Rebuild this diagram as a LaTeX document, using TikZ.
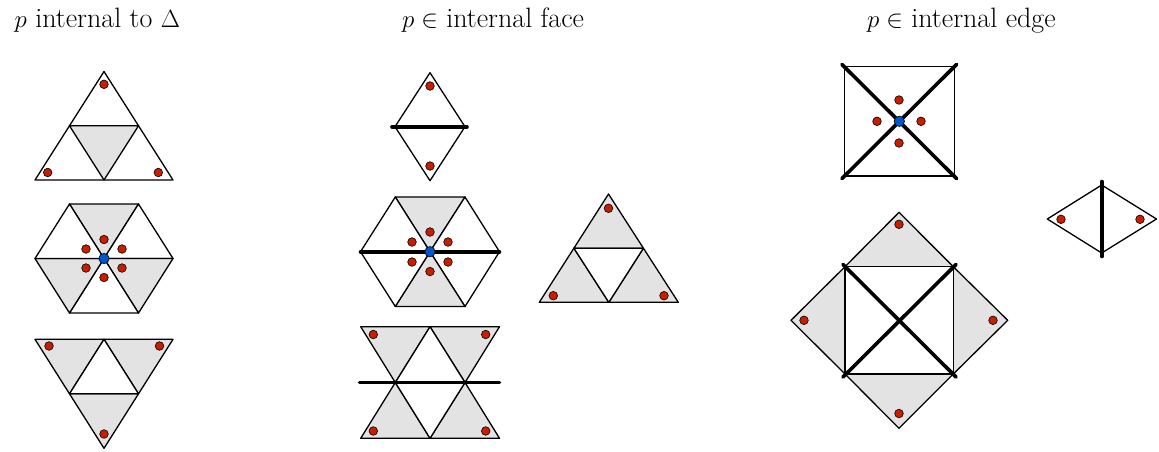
\documentclass[tikz,border=0pt]{standalone}
\usepackage{amssymb}
\definecolor{shade}{RGB}{227,227,227}
\definecolor{dotred}{RGB}{200,30,0}
\definecolor{dotblue}{RGB}{0,85,200}
\tikzset{
  face/.style={draw=black,line width=1.3pt,line join=round,fill=shade},
  wface/.style={draw=black,line width=1.3pt,line join=round,fill=white},
  heavy/.style={draw=black,line width=3.6pt,line cap=round},
  rdot/.style={fill=dotred,draw=black,line width=0.6pt},
  bdot/.style={fill=dotblue,draw=black,line width=0.6pt},
  title/.style={anchor=base west,inner sep=0pt,font=\fontsize{28}{33}\selectfont}
}
\begin{document}
\begin{tikzpicture}[x=1pt,y=-1pt]
\useasboundingbox (0,0) rectangle (1159,451);
% titles
\node[title] (t1) at (14.5,27) {$p$ internal to $\Delta$};
\node[title] (t2) at (402,27) {$p\in$ internal face};
\node[title] (t3) at (867,27) {$p\in$ internal edge};

% ---------- column 1 ----------
% top triangle
\draw[wface] (35,180)--(104,71.5)--(173,180)--cycle;
\draw[face] (69.5,125.8)--(138.5,125.8)--(104,180)--cycle;
\foreach \p in {(104,84.3),(47.7,172.5),(158.3,172.5)} \filldraw[rdot] \p circle[radius=4.3pt];
% hexagon
\draw[face]  (104,258.5)--(69.5,204)--(138.5,204)--cycle;
\draw[wface] (104,258.5)--(138.5,204)--(173,258.5)--cycle;
\draw[face]  (104,258.5)--(173,258.5)--(138.5,313)--cycle;
\draw[wface] (104,258.5)--(138.5,313)--(69.5,313)--cycle;
\draw[face]  (104,258.5)--(69.5,313)--(35,258.5)--cycle;
\draw[wface] (104,258.5)--(35,258.5)--(69.5,204)--cycle;
\foreach \p in {(104,239.5),(104,277.5),(86,249),(122,249),(86,268),(122,268)} \filldraw[rdot] \p circle[radius=4.3pt];
\filldraw[bdot] (104,258.5) circle[radius=5.2pt];
% bottom inverted triangle
\draw[face]  (35,339.3)--(104,339.3)--(69.5,393.8)--cycle;
\draw[face]  (104,339.3)--(173,339.3)--(138.5,393.8)--cycle;
\draw[face]  (69.5,393.8)--(138.5,393.8)--(104,448.3)--cycle;
\draw[wface] (104,339.3)--(69.5,393.8)--(138.5,393.8)--cycle;
\foreach \p in {(49,346),(159.5,346),(104,434)} \filldraw[rdot] \p circle[radius=4.3pt];

% ---------- column 2 ----------
% diamond
\draw[wface] (395,126.7)--(430,72.7)--(465,126.7)--cycle;
\draw[wface] (395,126.7)--(430,180.7)--(465,126.7)--cycle;
\draw[heavy] (392,126.7)--(467,126.7);
\foreach \p in {(430,86),(430,166)} \filldraw[rdot] \p circle[radius=4.3pt];
% hexagon
\draw[face]  (430,251.7)--(395.3,197)--(465,197)--cycle;
\draw[wface] (430,251.7)--(465,197)--(499.5,251.7)--cycle;
\draw[wface] (430,251.7)--(499.5,251.7)--(465,306.5)--cycle;
\draw[face]  (430,251.7)--(465,306.5)--(395.3,306.5)--cycle;
\draw[wface] (430,251.7)--(395.3,306.5)--(360.5,251.7)--cycle;
\draw[wface] (430,251.7)--(360.5,251.7)--(395.3,197)--cycle;
\draw[heavy] (360.5,251.7)--(499.5,251.7);
\foreach \p in {(430,232),(430,271.5),(412,242),(448,242),(412,262),(448,262)} \filldraw[rdot] \p circle[radius=4.3pt];
\filldraw[bdot] (430,251.7) circle[radius=5.2pt];
% right triangle
\draw[face]  (608.5,194)--(573.9,248.2)--(643.4,248.2)--cycle;
\draw[face]  (539.3,302.3)--(608.8,302.3)--(573.9,248.2)--cycle;
\draw[face]  (608.8,302.3)--(678.3,302.3)--(643.4,248.2)--cycle;
\draw[wface] (573.9,248.2)--(643.4,248.2)--(608.8,302.3)--cycle;
\foreach \p in {(608.5,208.3),(553.3,295.7),(664,295.7)} \filldraw[rdot] \p circle[radius=4.3pt];
% bowtie strip
\draw[face]  (360.7,326.7)--(430,326.7)--(395.3,382.5)--cycle;
\draw[face]  (430,326.7)--(499.5,326.7)--(465,382.5)--cycle;
\draw[wface] (395.3,382.5)--(465,382.5)--(430,326.7)--cycle;
\draw[face]  (395.3,382.5)--(360.7,438.3)--(430,438.3)--cycle;
\draw[face]  (465,382.5)--(430,438.3)--(499.5,438.3)--cycle;
\draw[wface] (395.3,382.5)--(465,382.5)--(430,438.3)--cycle;
\draw[heavy] (359.5,382.5)--(499.5,382.5);
\foreach \p in {(373.3,334.5),(485.7,334.5),(373.3,431),(485.7,431)} \filldraw[rdot] \p circle[radius=4.3pt];

% ---------- column 3 ----------
% top square
\draw[wface] (844.3,66.7) rectangle (954.3,176);
\draw[heavy] (842,64.5)--(956.5,178.5);
\draw[heavy] (842,178.5)--(956.5,64.5);
\foreach \p in {(899,100),(877,121.3),(921,121.3),(899,143)} \filldraw[rdot] \p circle[radius=4.3pt];
\filldraw[bdot] (899.3,121.3) circle[radius=5.2pt];
% bottom square with triangles
\draw[face] (845,266.7)--(953.3,266.7)--(899,212.3)--cycle;
\draw[face] (953.3,266.7)--(953.3,374)--(1007.7,320.3)--cycle;
\draw[face] (953.3,374)--(845,374)--(899,428.3)--cycle;
\draw[face] (845,374)--(845,266.7)--(791,320.3)--cycle;
\draw[wface] (845,266.7) rectangle (953.3,374);
\draw[heavy] (843,264.5)--(956,377);
\draw[heavy] (843,377)--(956,264.5);
\foreach \p in {(899,224.3),(804,320.3),(993,320.3),(899,413.5)} \filldraw[rdot] \p circle[radius=4.3pt];
% right diamond
\draw[wface] (1047.3,219)--(1101.7,185)--(1156.5,219)--(1101.7,253)--cycle;
\draw[heavy] (1101.7,181.5)--(1101.7,256.5);
\foreach \p in {(1061,219.3),(1140,219.3)} \filldraw[rdot] \p circle[radius=4.3pt];
\end{tikzpicture}
\end{document}
